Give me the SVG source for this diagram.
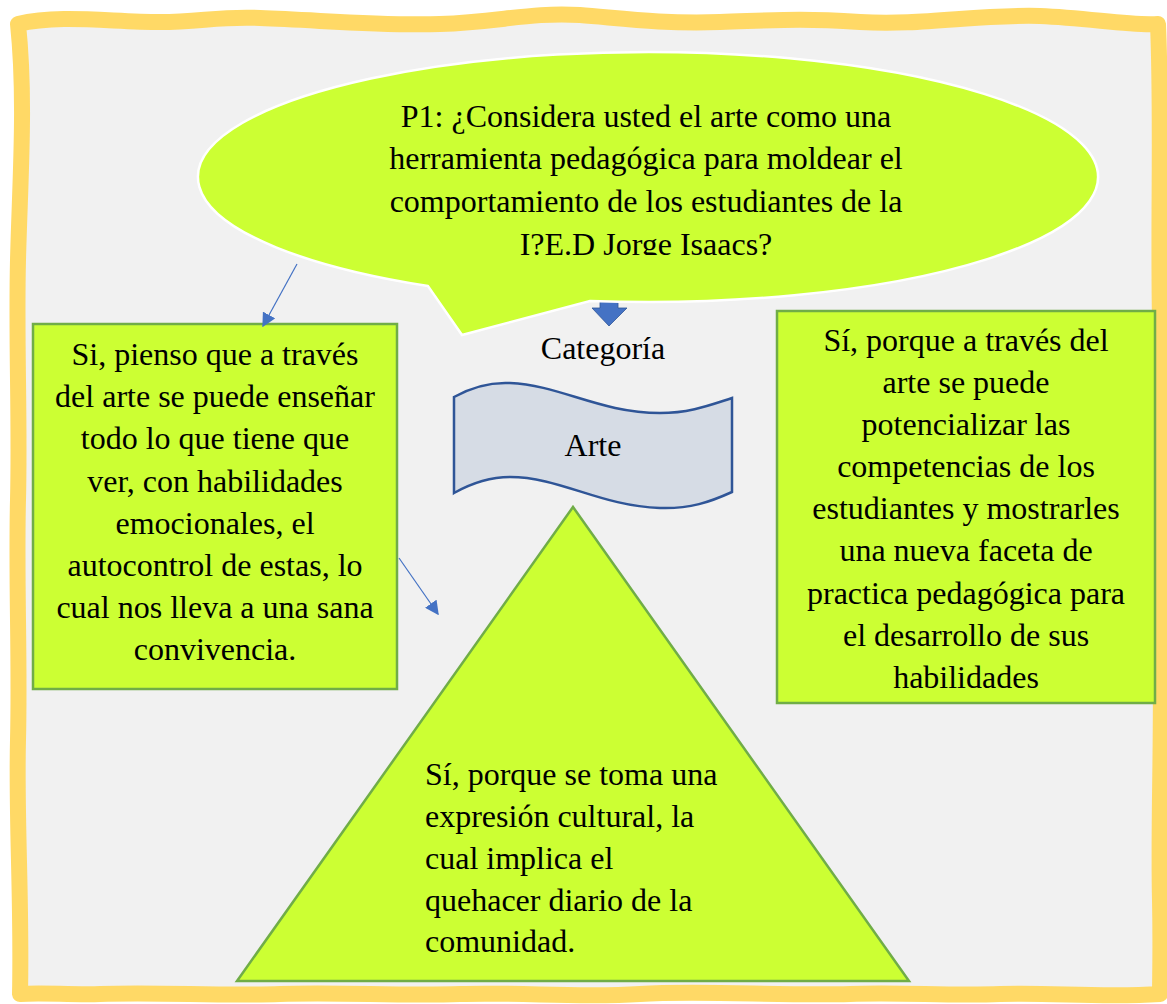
<svg xmlns="http://www.w3.org/2000/svg" width="1167" height="1004" viewBox="0 0 1167 1004">
<style>
.t{font-family:"Liberation Serif","Times New Roman",serif;font-size:32px;fill:#000}
.c{text-anchor:middle}
.box{fill:#CCFF33;stroke:#70AD47;stroke-width:2.5}
.con{stroke:#4472C4;stroke-width:1.2;fill:none}
</style>
<defs>
<marker id="ah" viewBox="0 0 10 10" refX="9" refY="5" markerWidth="14" markerHeight="14" markerUnits="userSpaceOnUse" orient="auto">
<path d="M0,0 L10,5 L0,10 z" fill="#4472C4"/>
</marker>
<clipPath id="cl"><rect x="300" y="90" width="700" height="165"/></clipPath>
</defs>
<rect width="1167" height="1004" fill="#fff"/>
<g id="frame">
<path d="M18,24 C60,14 110,22 160,22 C200,22 220,16 260,18 C320,20 380,26 440,24 C500,22 530,12 580,15 C620,18 660,24 720,22 C780,20 800,18 860,22 C920,26 980,14 1040,16 C1090,18 1130,26 1158,24 C1162,120 1158,220 1160,320 C1164,420 1158,520 1160,620 C1163,720 1158,820 1160,900 C1161,950 1160,980 1160,994 C1100,998 1050,992 1000,994 C950,996 900,992 850,994 C780,996 700,990 640,994 C580,998 520,992 460,994 C400,996 340,992 280,994 C220,996 160,992 100,994 C70,995 40,992 20,994 C22,900 16,820 18,740 C20,660 16,580 18,500 C20,420 16,340 18,260 C20,180 26,100 18,24 Z" fill="#F1F1F1" stroke="#FFD966" stroke-width="16" stroke-linejoin="round"/>
</g>
<g id="down-arrow">
<path d="M600,296 L618,296 L618,308 L627,308 L609,326 L592,308 L600,308 Z" fill="#4472C4" stroke="#2F5597" stroke-width="0.8"/>
</g>
<g id="callout">
<path d="M428,286.05 A450,125 0 1 1 590,300.96 L462,335 Z" fill="#CCFF33" stroke="#fff" stroke-width="2.5" stroke-linejoin="miter"/>
<g clip-path="url(#cl)">
<text class="t c" x="646" y="127">P1: ¿Considera usted el arte como una</text>
<text class="t c" x="646" y="169">herramienta pedagógica para moldear el</text>
<text class="t c" x="646" y="212">comportamiento de los estudiantes de la</text>
<text class="t c" x="646" y="255">I?E.D Jorge Isaacs?</text>
</g>
</g>
<g id="categoria">
<text class="t c" x="603" y="359">Categoría</text>
</g>
<g id="arte">
<path d="M454,397 C470,388 490,382 510,383 C560,385 600,413 660,413 C690,413 710,405 732,398 L732,492 C710,502 690,509 660,508 C600,506 560,477 510,477 C490,477 470,484 454,493 Z" fill="#D6DCE5" stroke="#2F5597" stroke-width="2.5"/>
<text class="t c" x="593" y="456">Arte</text>
</g>
<g id="left-box">
<rect class="box" x="33" y="324" width="364" height="365"/>
<text class="t c" x="215" y="365">Si, pienso que a través</text>
<text class="t c" x="215" y="407">del arte se puede enseñar</text>
<text class="t c" x="215" y="449">todo lo que tiene que</text>
<text class="t c" x="215" y="492">ver, con habilidades</text>
<text class="t c" x="215" y="534">emocionales, el</text>
<text class="t c" x="215" y="576">autocontrol de estas, lo</text>
<text class="t c" x="215" y="618">cual nos lleva a una sana</text>
<text class="t c" x="215" y="660">convivencia.</text>
</g>
<g id="right-box">
<rect class="box" x="777" y="311" width="378" height="392"/>
<text class="t c" x="966" y="351">Sí, porque a través del</text>
<text class="t c" x="966" y="393">arte se puede</text>
<text class="t c" x="966" y="435">potencializar las</text>
<text class="t c" x="966" y="477">competencias de los</text>
<text class="t c" x="966" y="519">estudiantes y mostrarles</text>
<text class="t c" x="966" y="561">una nueva faceta de</text>
<text class="t c" x="966" y="604">practica pedagógica para</text>
<text class="t c" x="966" y="646">el desarrollo de sus</text>
<text class="t c" x="966" y="688">habilidades</text>
</g>
<g id="triangle">
<path class="box" d="M573,507 L909,981 L237,981 Z"/>
<text class="t" x="425" y="785">Sí, porque se toma una</text>
<text class="t" x="425" y="827">expresión cultural, la</text>
<text class="t" x="425" y="869">cual implica el</text>
<text class="t" x="425" y="911">quehacer diario de la</text>
<text class="t" x="425" y="952">comunidad.</text>
</g>
<g id="connectors">
<line class="con" x1="297" y1="264" x2="263" y2="326" marker-end="url(#ah)"/>
<line class="con" x1="399" y1="558" x2="438" y2="614" marker-end="url(#ah)"/>
</g>
</svg>
